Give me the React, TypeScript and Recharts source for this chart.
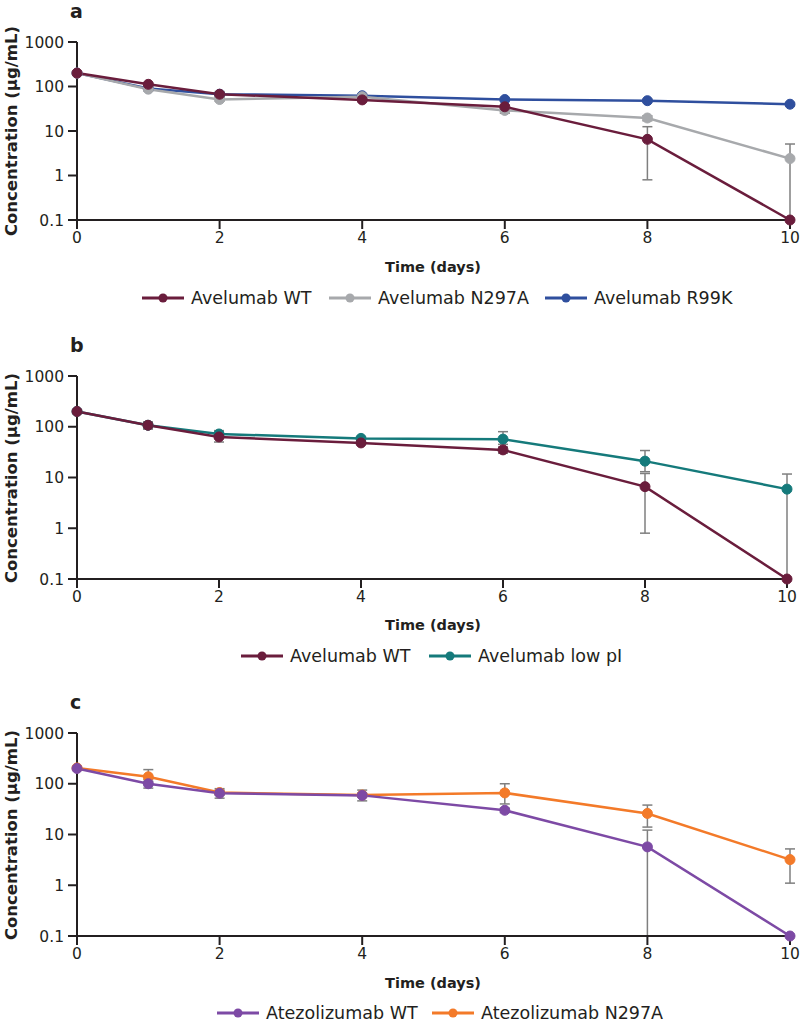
import React from 'react'
import { LineChart, Line, XAxis, YAxis, ErrorBar } from 'recharts'

// sampling days
const days = [0, 1, 2, 4, 6, 8, 10]
const xTicks = [0, 2, 4, 6, 8, 10]
const yTicks = [0.1, 1, 10, 100, 1000]

// panel a – Avelumab variants
const aWT = [200, 112, 67, 50, 35, 6.5, 0.1]
const aWTLow = [200, 105, 62, 46, 32, 0.8, 0.1]
const aWTHigh = [200, 120, 72, 54, 38, 12.5, 0.1]
const aN297A = [200, 87, 51, 59, 29, 19.6, 2.4]
const aN297ALow = [200, 80, 47, 55, 25, 17, 0.1]
const aN297AHigh = [200, 95, 56, 64, 33, 22, 5.1]
const aR99K = [200, 90, 67, 62, 51, 48, 40]
const aR99KLow = [200, 85, 57, 56, 47, 44, 37]
const aR99KHigh = [200, 95, 77, 68, 55, 52, 43]

// panel b – WT vs low pI
const bWT = [200, 107, 63, 48, 35, 6.6, 0.1]
const bWTLow = [200, 90, 50, 45, 30, 0.8, 0.1]
const bWTHigh = [200, 125, 78, 52, 40, 12, 0.1]
const bLowPI = [200, 107, 72, 59, 57, 21, 5.9]
const bLowPILow = [200, 92, 60, 55, 45, 13, 0.1]
const bLowPIHigh = [200, 122, 84, 63, 80, 34, 11.7]

// panel c – Atezolizumab
const cWT = [200, 100, 65, 59, 30, 5.7, 0.1]
const cWTLow = [200, 82, 52, 46, 27, 0.1, 0.1]
const cWTHigh = [200, 120, 80, 75, 33, 12.2, 0.1]
const cN297A = [205, 137, 67, 60, 66, 26, 3.2]
const cN297ALow = [205, 110, 60, 55, 40, 14, 1.1]
const cN297AHigh = [205, 190, 75, 65, 100, 38, 5.2]

const FONT = '"DejaVu Sans", sans-serif'
const AXIS = '#231f20'

interface Series {
  key: string
  name: string
  color: string
  values: number[]
  low: number[]
  high: number[]
}

interface LegendPos {
  iconX: number
}

function buildRows(series: Series[]) {
  return days.map((d, i) => {
    const row: Record<string, any> = { day: d }
    series.forEach(s => {
      row[s.key] = s.values[i]
      row[s.key + 'Err'] = [s.values[i] - s.low[i], s.high[i] - s.values[i]]
    })
    return row
  })
}

function LegendIcon({ color }: { color: string }) {
  return (
    <svg width={42} height={12} style={{ display: 'block' }}>
      <line x1={0} y1={6} x2={42} y2={6} stroke={color} strokeWidth={3} />
      <circle cx={21} cy={6} r={4.5} fill={color} />
    </svg>
  )
}

function Panel({
  letter, top, height, plotTop, plotBottom, right, series, drawOrder, legendY, legendPos, titleY,
}: {
  letter: string
  top: number
  height: number
  plotTop: number
  plotBottom: number
  right: number
  series: Series[]
  drawOrder: string[]
  legendY: number
  legendPos: LegendPos[]
  titleY: number
}) {
  const rows = buildRows(series)
  const xAxisH = 30
  const bottomMargin = height - plotBottom - xAxisH
  const midY = (plotTop + plotBottom) / 2
  return (
    <div style={{ position: 'absolute', left: 0, top, width: 800, height: height + 60 }}>
      <div style={{ position: 'absolute', left: 70, top: plotTop - 42, fontFamily: FONT, fontWeight: 'bold', fontSize: 19, color: AXIS }}>
        {letter}
      </div>
      <div style={{
        position: 'absolute', left: 11, top: midY, transform: 'translate(-50%, -50%) rotate(-90deg)',
        whiteSpace: 'nowrap', fontFamily: FONT, fontWeight: 'bold', fontSize: 16.5, color: AXIS,
      }}>
        Concentration (µg/mL)
      </div>
      <div style={{
        position: 'absolute', left: 433, top: titleY, transform: 'translate(-50%, -50%)',
        whiteSpace: 'nowrap', fontFamily: FONT, fontWeight: 'bold', fontSize: 14.5, color: AXIS,
      }}>
        Time (days)
      </div>
      {series.map((s, i) => (
        <div key={s.key} style={{
          position: 'absolute', left: legendPos[i].iconX, top: legendY, transform: 'translateY(-50%)',
          display: 'flex', alignItems: 'center', gap: 7, whiteSpace: 'nowrap',
          fontFamily: FONT, fontSize: 17.5, color: AXIS,
        }}>
          <LegendIcon color={s.color} />
          <span>{s.name}</span>
        </div>
      ))}
      <LineChart
        width={800}
        height={height}
        data={rows}
        margin={{ top: plotTop, right, left: 0, bottom: bottomMargin }}
        style={{ position: 'absolute', left: 0, top: 0 }}
      >
        <XAxis
          dataKey="day"
          type="number"
          domain={[0, 10]}
          ticks={xTicks}
          height={xAxisH}
          tickSize={9}
          tickMargin={3}
          axisLine={{ stroke: AXIS, strokeWidth: 2 }}
          tickLine={{ stroke: AXIS, strokeWidth: 2 }}
          tick={{ fontSize: 15.5, fill: AXIS, fontFamily: FONT }}
        />
        <YAxis
          scale="log"
          domain={[0.1, 1000]}
          ticks={yTicks}
          width={77}
          tickSize={9}
          tickMargin={4}
          interval={0}
          tickFormatter={(v: number) => String(v)}
          axisLine={{ stroke: AXIS, strokeWidth: 2 }}
          tickLine={{ stroke: AXIS, strokeWidth: 2 }}
          tick={{ fontSize: 15.5, fill: AXIS, fontFamily: FONT }}
        />
        {drawOrder.map(k => {
          const s = series.find(x => x.key === k)!
          return (
            <Line
              key={s.key}
              type="linear"
              dataKey={s.key}
              name={s.name}
              stroke={s.color}
              strokeWidth={2.5}
              dot={{ r: 5, fill: s.color, stroke: s.color, strokeWidth: 1 }}
              activeDot={false}
              isAnimationActive={false}
            >
              <ErrorBar dataKey={s.key + 'Err'} width={5} stroke="#7f7f7f" strokeWidth={1.5} direction="y" />
            </Line>
          )
        })}
      </LineChart>
    </div>
  )
}

const WT_COLOR = '#6a1d3c'

const seriesA: Series[] = [
  { key: 'wt', name: 'Avelumab WT', color: WT_COLOR, values: aWT, low: aWTLow, high: aWTHigh },
  { key: 'n297a', name: 'Avelumab N297A', color: '#a7a9ac', values: aN297A, low: aN297ALow, high: aN297AHigh },
  { key: 'r99k', name: 'Avelumab R99K', color: '#2f4f9e', values: aR99K, low: aR99KLow, high: aR99KHigh },
]

const seriesB: Series[] = [
  { key: 'wt', name: 'Avelumab WT', color: WT_COLOR, values: bWT, low: bWTLow, high: bWTHigh },
  { key: 'lowpi', name: 'Avelumab low pI', color: '#157a7b', values: bLowPI, low: bLowPILow, high: bLowPIHigh },
]

const seriesC: Series[] = [
  { key: 'wt', name: 'Atezolizumab WT', color: '#7d4aa5', values: cWT, low: cWTLow, high: cWTHigh },
  { key: 'n297a', name: 'Atezolizumab N297A', color: '#f37a29', values: cN297A, low: cN297ALow, high: cN297AHigh },
]

export default function App() {
  return (
    <div style={{ position: 'absolute', left: 0, top: 0, width: 800, height: 1024, background: '#fff', overflow: 'hidden' }}>
      <Panel
        letter="a" top={0} height={260} plotTop={42} plotBottom={220} right={10}
        series={seriesA} drawOrder={['r99k', 'n297a', 'wt']}
        titleY={267} legendY={298}
        legendPos={[{ iconX: 142 }, { iconX: 329 }, { iconX: 545 }]}
      />
      <Panel
        letter="b" top={320} height={300} plotTop={56} plotBottom={259} right={13}
        series={seriesB} drawOrder={['lowpi', 'wt']}
        titleY={305} legendY={336}
        legendPos={[{ iconX: 241 }, { iconX: 429 }]}
      />
      <Panel
        letter="c" top={660} height={316} plotTop={73} plotBottom={276} right={10}
        series={seriesC} drawOrder={['n297a', 'wt']}
        titleY={323} legendY={353}
        legendPos={[{ iconX: 217 }, { iconX: 432 }]}
      />
    </div>
  )
}
